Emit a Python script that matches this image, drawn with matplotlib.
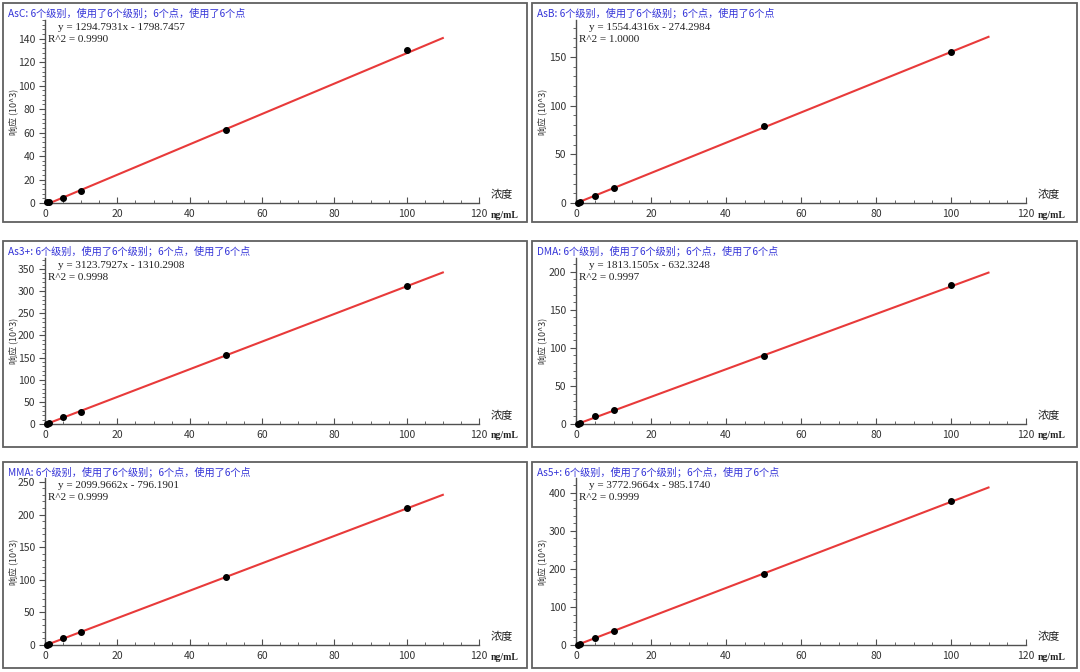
import matplotlib
matplotlib.use("Agg")
import matplotlib.pyplot as plt
from matplotlib.patches import Rectangle
from matplotlib.ticker import MultipleLocator, AutoMinorLocator
import numpy as np

plt.rcParams['font.family'] = ['Noto Sans CJK SC', 'DejaVu Sans']

names = ["AsC", "AsB", "As3+", "DMA", "MMA", "As5+"]
conc = [0.5, 1, 5, 10, 50, 100]
resp_AsC = [0.5, 1.0, 4.5, 10.0, 62.0, 130.0]
resp_AsB = [0.5, 1.5, 7.5, 15.3, 79.0, 155.5]
resp_As3 = [1.0, 3.0, 15.0, 28.0, 157.0, 311.0]
resp_DMA = [0.5, 1.5, 10.0, 18.0, 89.0, 182.0]
resp_MMA = [0.5, 1.5, 10.0, 20.5, 105.0, 210.0]
resp_As5 = [1.0, 3.0, 18.0, 36.0, 186.0, 378.0]
responses = [resp_AsC, resp_AsB, resp_As3, resp_DMA, resp_MMA, resp_As5]
slopes = [1294.7931, 1554.4316, 3123.7927, 1813.1505, 2099.9662, 3772.9664]
intercepts = [-1798.7457, -274.2984, -1310.2908, -632.3248, -796.1901, -985.1740]
r2 = ["0.9990", "1.0000", "0.9998", "0.9997", "0.9999", "0.9999"]
y_top = [156, 188, 375, 218, 256, 439]
y_major = [20, 50, 50, 50, 50, 100]

W, H = 1080, 672
fig = plt.figure(figsize=(W / 100, H / 100), dpi=100)

col_box = [(3, 527), (532, 1077)]
row_box = [(3, 222), (241, 447), (462, 668)]
ax_left = [45, 576]
ax_right = [479, 1026]
ax_bottom = [203, 424, 645]
ax_top = [20, 258, 478]

def fx(px):
    return px / W

def fy(py):
    return 1 - py / H

for i, name in enumerate(names):
    r, c = divmod(i, 2)
    bx0, bx1 = col_box[c]
    by0, by1 = row_box[r]
    fig.patches.append(Rectangle((fx(bx0), fy(by1)), fx(bx1 - bx0), (by1 - by0) / H,
                                 transform=fig.transFigure, fill=False,
                                 edgecolor='#606060', linewidth=1.3))
    ax = fig.add_axes([fx(ax_left[c]), fy(ax_bottom[r]),
                       fx(ax_right[c] - ax_left[c]), (ax_bottom[r] - ax_top[r]) / H])
    ax.set_xlim(0, 120)
    ax.set_ylim(0, y_top[i])
    for s in ['top', 'right']:
        ax.spines[s].set_visible(False)
    for s in ['left', 'bottom']:
        ax.spines[s].set_color('#505050')
        ax.spines[s].set_linewidth(1.0)
    ax.xaxis.set_major_locator(MultipleLocator(20))
    ax.xaxis.set_minor_locator(AutoMinorLocator(4))
    ax.yaxis.set_major_locator(MultipleLocator(y_major[i]))
    ax.yaxis.set_minor_locator(AutoMinorLocator(5))
    ax.tick_params(axis='x', which='major', direction='in', length=4, color='#505050',
                   labelsize=7.5, labelcolor='#333333', pad=4)
    ax.tick_params(axis='x', which='minor', direction='in', length=2, color='#505050')
    ax.tick_params(axis='y', which='major', direction='out', length=4, color='#505050',
                   labelsize=7.5, labelcolor='#333333', pad=3)
    ax.tick_params(axis='y', which='minor', direction='out', length=2, color='#505050')
    ax.patch.set_alpha(0)

    xs = np.array([0, 110])
    ax.plot(xs, (slopes[i] * xs + intercepts[i]) / 1000, color='#e83a3a', lw=1.5,
            clip_on=True, zorder=2)
    ax.scatter(conc, responses[i], s=16, color='black', zorder=3, clip_on=False)

    fig.text(fx(bx0 + 5), fy(by0 + 10), f"{name}: 6个级别，使用了6个级别；6个点，使用了6个点",
             color='#3434d8', fontsize=7.3, ha='left', va='center')
    fig.text(fx(ax_left[c] + 13), fy(ax_top[r] + 8),
             f"y = {slopes[i]:.4f}x - {abs(intercepts[i]):.4f}",
             family='Liberation Serif', fontsize=8, color='#222222', ha='left', va='center')
    fig.text(fx(ax_left[c] + 3), fy(ax_top[r] + 20), f"R^2 = {r2[i]}",
             family='Liberation Serif', fontsize=8, color='#222222', ha='left', va='center')
    fig.text(fx(bx0 + 11), fy((ax_top[r] + ax_bottom[r]) / 2), "响应 (10^3)",
             rotation=90, fontsize=6.5, color='#333333', ha='center', va='center')
    fig.text(fx(ax_right[c] + 12), fy(ax_bottom[r] - 8), "浓度",
             fontsize=8, color='#222222', ha='left', va='center')
    fig.text(fx(ax_right[c] + 12), fy(ax_bottom[r] + 12), "ng/mL",
             family='Liberation Serif', fontsize=7, color='#222222', ha='left', va='center',
             fontweight='bold')

fig.savefig("out.png", dpi=100)
